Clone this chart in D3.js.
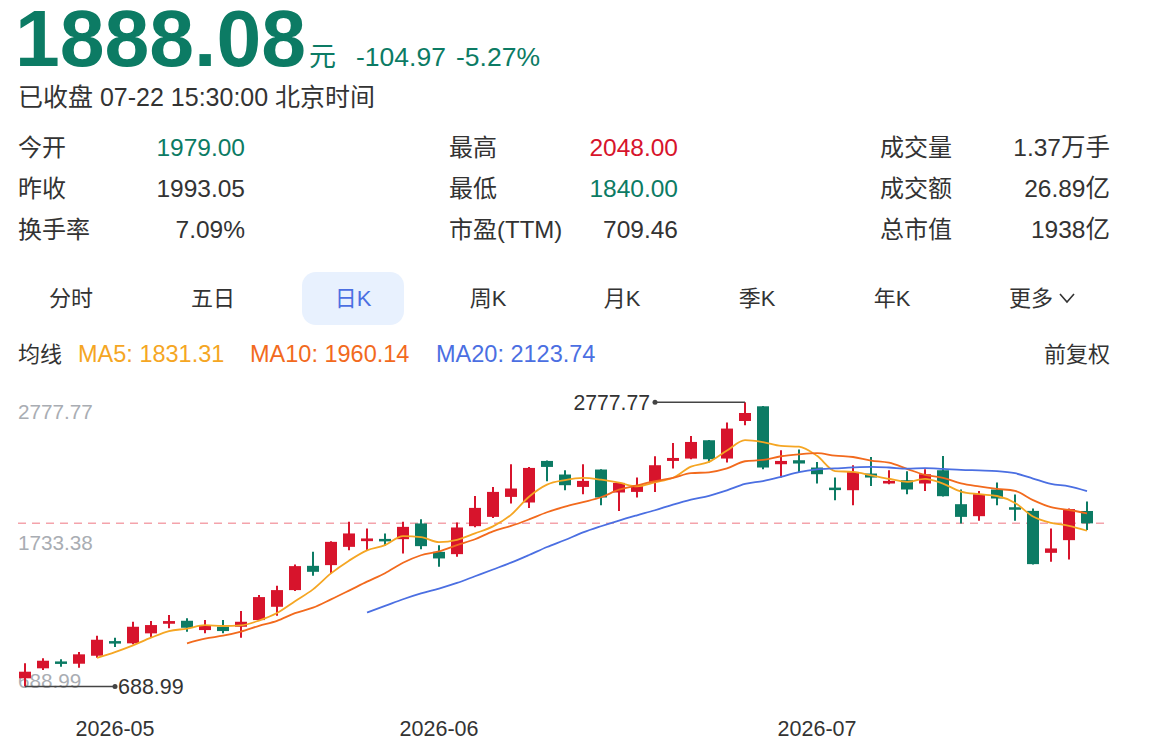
<!DOCTYPE html>
<html>
<head>
<meta charset="utf-8">
<script src="https://cdn.jsdelivr.net/npm/d3@7"></script>
<style>
html,body{margin:0;padding:0;background:#fff;}
svg{display:block;font-family:"Liberation Sans",Arial,"Noto Sans CJK SC",sans-serif;}
</style>
</head>
<body>
<svg id="chart" width="1166" height="748"></svg>
<script>
// ---------- data ----------
const opens  = [749.2,822.6,866.7,856.4,915.1,1015.7,1006.2,1079.6,1150.1,1172.1,
                1103.8,1128.1,1128.1,1177.2,1274.9,1397.5,1575.9,1581.1,1715.4,1757.3,
                1766.8,1771.9,1887.2,1678.7,1661.8,1867.4,1935.7,2082.5,2041.4,2346.8,
                2247.0,2155.9,2283.7,2114.8,2119.2,2192.6,2346.8,2364.4,2498.8,2364.4,
                2640.5,2748.4,2322.6,2352.0,2298.4,2144.2,2131.7,2254.3,2180.9,2205.1,
                2180.9,2278.5,2028.9,1940.8,2136.8,1999.5,1979.7,1671.4,1764.6,1979.00];
const highs  = [859.3,896.0,888.7,942.3,1062.0,1047.3,1164.8,1169.9,1214.0,1189.7,
                1177.2,1177.2,1243.3,1360.8,1429.1,1586.2,1678.7,1757.3,1899.0,1850.5,
                1813.8,1899.0,1918.8,1727.9,1894.6,2089.9,2155.9,2322.6,2302.8,2350.0,
                2278.5,2322.6,2286.0,2188.0,2224.9,2381.3,2479.0,2530.4,2501.0,2628.8,
                2777.77,2750.0,2425.4,2430.5,2339.5,2224.9,2315.3,2376.2,2278.5,2271.2,
                2285.9,2383.5,2136.8,2126.6,2188.2,2100.1,1997.3,1850.5,1997.3,2048.00];
const lows   = [688.99,810.1,834.4,827.0,900.4,979.0,998.8,1047.3,1116.3,1091.3,
                1079.6,1079.6,1047.3,1170.0,1208.8,1390.2,1502.5,1520.1,1691.2,1691.2,
                1722.8,1667.0,1698.5,1568.6,1642.0,1860.0,1928.3,2034.1,2001.7,2197.8,
                2131.7,2102.3,2021.6,1979.7,2078.1,2119.2,2291.0,2360.0,2335.1,2335.1,
                2608.9,2285.9,2224.9,2266.1,2180.9,2058.3,2021.6,2163.3,2175.8,2102.3,
                2126.6,2085.0,1887.2,1906.3,2021.6,1906.3,1585.0,1605.3,1622.9,1840.00];
const closes = [797.7,878.4,861.5,925.4,1032.6,1011.3,1128.1,1140.5,1169.9,1120.7,
                1140.5,1096.5,1164.8,1346.1,1397.5,1573.7,1531.9,1752.1,1813.8,1777.1,
                1762.4,1862.3,1720.5,1630.2,1857.8,2001.7,2119.2,2144.2,2295.4,2302.8,
                2168.4,2200.0,2078.1,2185.3,2168.4,2315.3,2368.8,2486.3,2359.3,2584.7,
                2699.2,2298.4,2346.8,2327.7,2249.2,2139.0,2266.1,2224.9,2200.0,2136.8,
                2249.2,2087.7,1935.7,2102.3,2070.8,1995.1,1588.4,1703.7,1993.05,1888.08];
const maPeriods   = [5, 10, 20];
const maLabels    = ["MA5: 1831.31", "MA10: 1960.14", "MA20: 2123.74"];
const yTickValues = [2777.77, 1733.38, 688.99];
const yTickLabels = ["2777.77", "1733.38", "688.99"];
const xTickIdx    = [5, 23, 44];
const xTickLabels = ["2026-05", "2026-06", "2026-07"];
const lastPrice   = 1888.08;
const maxIdx = 40, minIdx = 0;

const header = {price:"1888.08", unit:"元", change:"-104.97", pct:"-5.27%", status:"已收盘 07-22 15:30:00 北京时间"};
const statLabels = [["今开","昨收","换手率"],["最高","最低","市盈(TTM)"],["成交量","成交额","总市值"]];
const statValues = [["1979.00","1993.05","7.09%"],["2048.00","1840.00","709.46"],["1.37万手","26.89亿","1938亿"]];
const statColors = [["up","","",],["dn","up",""],["","",""]];
const tabs = ["分时","五日","日K","周K","月K","季K","年K","更多"];

// ---------- styles ----------
const GREEN = "#0c7b64", RED = "#d7142c", TXT = "#333", GRAY = "#a9adb3";
const MA_COLORS = ["#f5a623", "#f26a1d", "#4b6fe2"];

const svg = d3.select("#chart");

// ---------- header ----------
svg.append("text").attr("x",15).attr("y",66).attr("font-size",80.5).attr("font-weight","bold")
   .attr("fill",GREEN).text(header.price);
svg.append("text").attr("x",309).attr("y",66).attr("font-size",27).attr("fill",GREEN).text(header.unit);
svg.append("text").attr("x",356).attr("y",66).attr("font-size",26.5).attr("fill",GREEN).text(header.change);
svg.append("text").attr("x",456).attr("y",66).attr("font-size",26.5).attr("fill",GREEN).text(header.pct);
svg.append("text").attr("x",18).attr("y",106).attr("font-size",25).attr("fill",TXT).text(header.status);

const colLabelX = [18, 449, 880], colValX = [245, 678, 1110], rowY = [156, 197, 238];
statLabels.forEach((col, ci) => col.forEach((lab, ri) => {
  svg.append("text").attr("x",colLabelX[ci]).attr("y",rowY[ri]).attr("font-size",24)
     .attr("fill",TXT).text(lab);
  const c = statColors[ci][ri];
  svg.append("text").attr("x",colValX[ci]).attr("y",rowY[ri]).attr("font-size",24.5)
     .attr("text-anchor","end").attr("fill", c==="up"?GREEN:(c==="dn"?RED:TXT)).text(statValues[ci][ri]);
}));

// ---------- tabs ----------
const tabX = [71, 213, 353, 488, 622, 757, 892, 1031];
svg.append("rect").attr("x",302).attr("y",272).attr("width",102).attr("height",53)
   .attr("rx",14).attr("fill","#e8f1fe");
tabs.forEach((t,i) => {
  svg.append("text").attr("x",tabX[i]).attr("y",306).attr("font-size",22)
     .attr("text-anchor","middle").attr("fill", i===2 ? "#4b6fe2" : TXT).text(t);
});
svg.append("path").attr("d","M1060,294 L1067,302 L1074,294").attr("fill","none")
   .attr("stroke",TXT).attr("stroke-width",1.6);

// ---------- legend ----------
svg.append("text").attr("x",18).attr("y",362).attr("font-size",22).attr("fill",TXT).text("均线");
const legX = [78, 250, 436];
maLabels.forEach((l,i) => svg.append("text").attr("x",legX[i]).attr("y",362).attr("font-size",23.5)
   .attr("fill",MA_COLORS[i]).text(l));
svg.append("text").attr("x",1110).attr("y",362).attr("font-size",22).attr("text-anchor","end")
   .attr("fill",TXT).text("前复权");

// ---------- scales ----------
const n = closes.length;
const x = d3.scaleBand().domain(d3.range(n)).range([16, 1096]).paddingInner(1/3).paddingOuter(1/6);
const cx = i => x(i) + x.bandwidth()/2;
const y = d3.scaleLinear().domain([688.99, 2777.77]).range([686.5, 402.3]);

// y labels
const yLabelY = [419, 550, 688];
yTickLabels.forEach((t,i) => svg.append("text").attr("x",18).attr("y",yLabelY[i])
   .attr("font-size",20.7).attr("fill",GRAY).text(t));

// last price dashed line
svg.append("line").attr("x1",18).attr("x2",1110).attr("y1",y(lastPrice)).attr("y2",y(lastPrice))
   .attr("stroke","#f4a3ab").attr("stroke-width",1.5).attr("stroke-dasharray","8,6");

// ---------- candles ----------
const data = d3.range(n).map(i => ({i, o:opens[i], h:highs[i], l:lows[i], c:closes[i]}));
const g = svg.append("g");
const col = d => d.c >= d.o ? RED : GREEN;
g.selectAll("line.wick").data(data).join("line").attr("class","wick")
  .attr("x1",d=>cx(d.i)).attr("x2",d=>cx(d.i)).attr("y1",d=>y(d.h)).attr("y2",d=>y(d.l))
  .attr("stroke",col).attr("stroke-width",2);
g.selectAll("rect.body").data(data).join("rect").attr("class","body")
  .attr("x",d=>x(d.i)).attr("width",x.bandwidth())
  .attr("y",d=>{ const t=y(Math.max(d.o,d.c)), b=y(Math.min(d.o,d.c)); return (b-t)<2.5 ? (t+b)/2-1.25 : t; })
  .attr("height",d=>Math.max(2.5, y(Math.min(d.o,d.c)) - y(Math.max(d.o,d.c))))
  .attr("fill",col);

// ---------- moving averages ----------
maPeriods.forEach((p,k) => {
  const pts = d3.range(p-1, n).map(i => [i, d3.mean(closes.slice(i-p+1, i+1))]);
  svg.append("path").datum(pts)
    .attr("d", d3.line().x(d=>cx(d[0])).y(d=>y(d[1])).curve(d3.curveMonotoneX))
    .attr("fill","none").attr("stroke",MA_COLORS[k]).attr("stroke-width",1.8);
});

// ---------- max/min annotations ----------
const hy = y(highs[maxIdx]);
svg.append("line").attr("x1",655).attr("x2",cx(maxIdx)).attr("y1",hy).attr("y2",hy)
   .attr("stroke","#444").attr("stroke-width",1.5);
svg.append("circle").attr("cx",655).attr("cy",hy).attr("r",2.5).attr("fill","#444");
svg.append("text").attr("x",650).attr("y",hy+7.5).attr("text-anchor","end").attr("font-size",21.2)
   .attr("fill",TXT).text(highs[maxIdx].toFixed(2));

const ly = y(lows[minIdx]);
svg.append("line").attr("x1",cx(minIdx)).attr("x2",115).attr("y1",ly).attr("y2",ly)
   .attr("stroke","#444").attr("stroke-width",1.5);
svg.append("circle").attr("cx",115).attr("cy",ly).attr("r",2.5).attr("fill","#444");
svg.append("text").attr("x",118).attr("y",ly+7.5).attr("font-size",21.5)
   .attr("fill",TXT).text(lows[minIdx].toFixed(2));

// ---------- x axis labels ----------
xTickIdx.forEach((idx,i) => svg.append("text").attr("x",cx(idx)).attr("y",736)
   .attr("font-size",21.5).attr("text-anchor","middle").attr("fill",TXT).text(xTickLabels[i]));
</script>
</body>
</html>
